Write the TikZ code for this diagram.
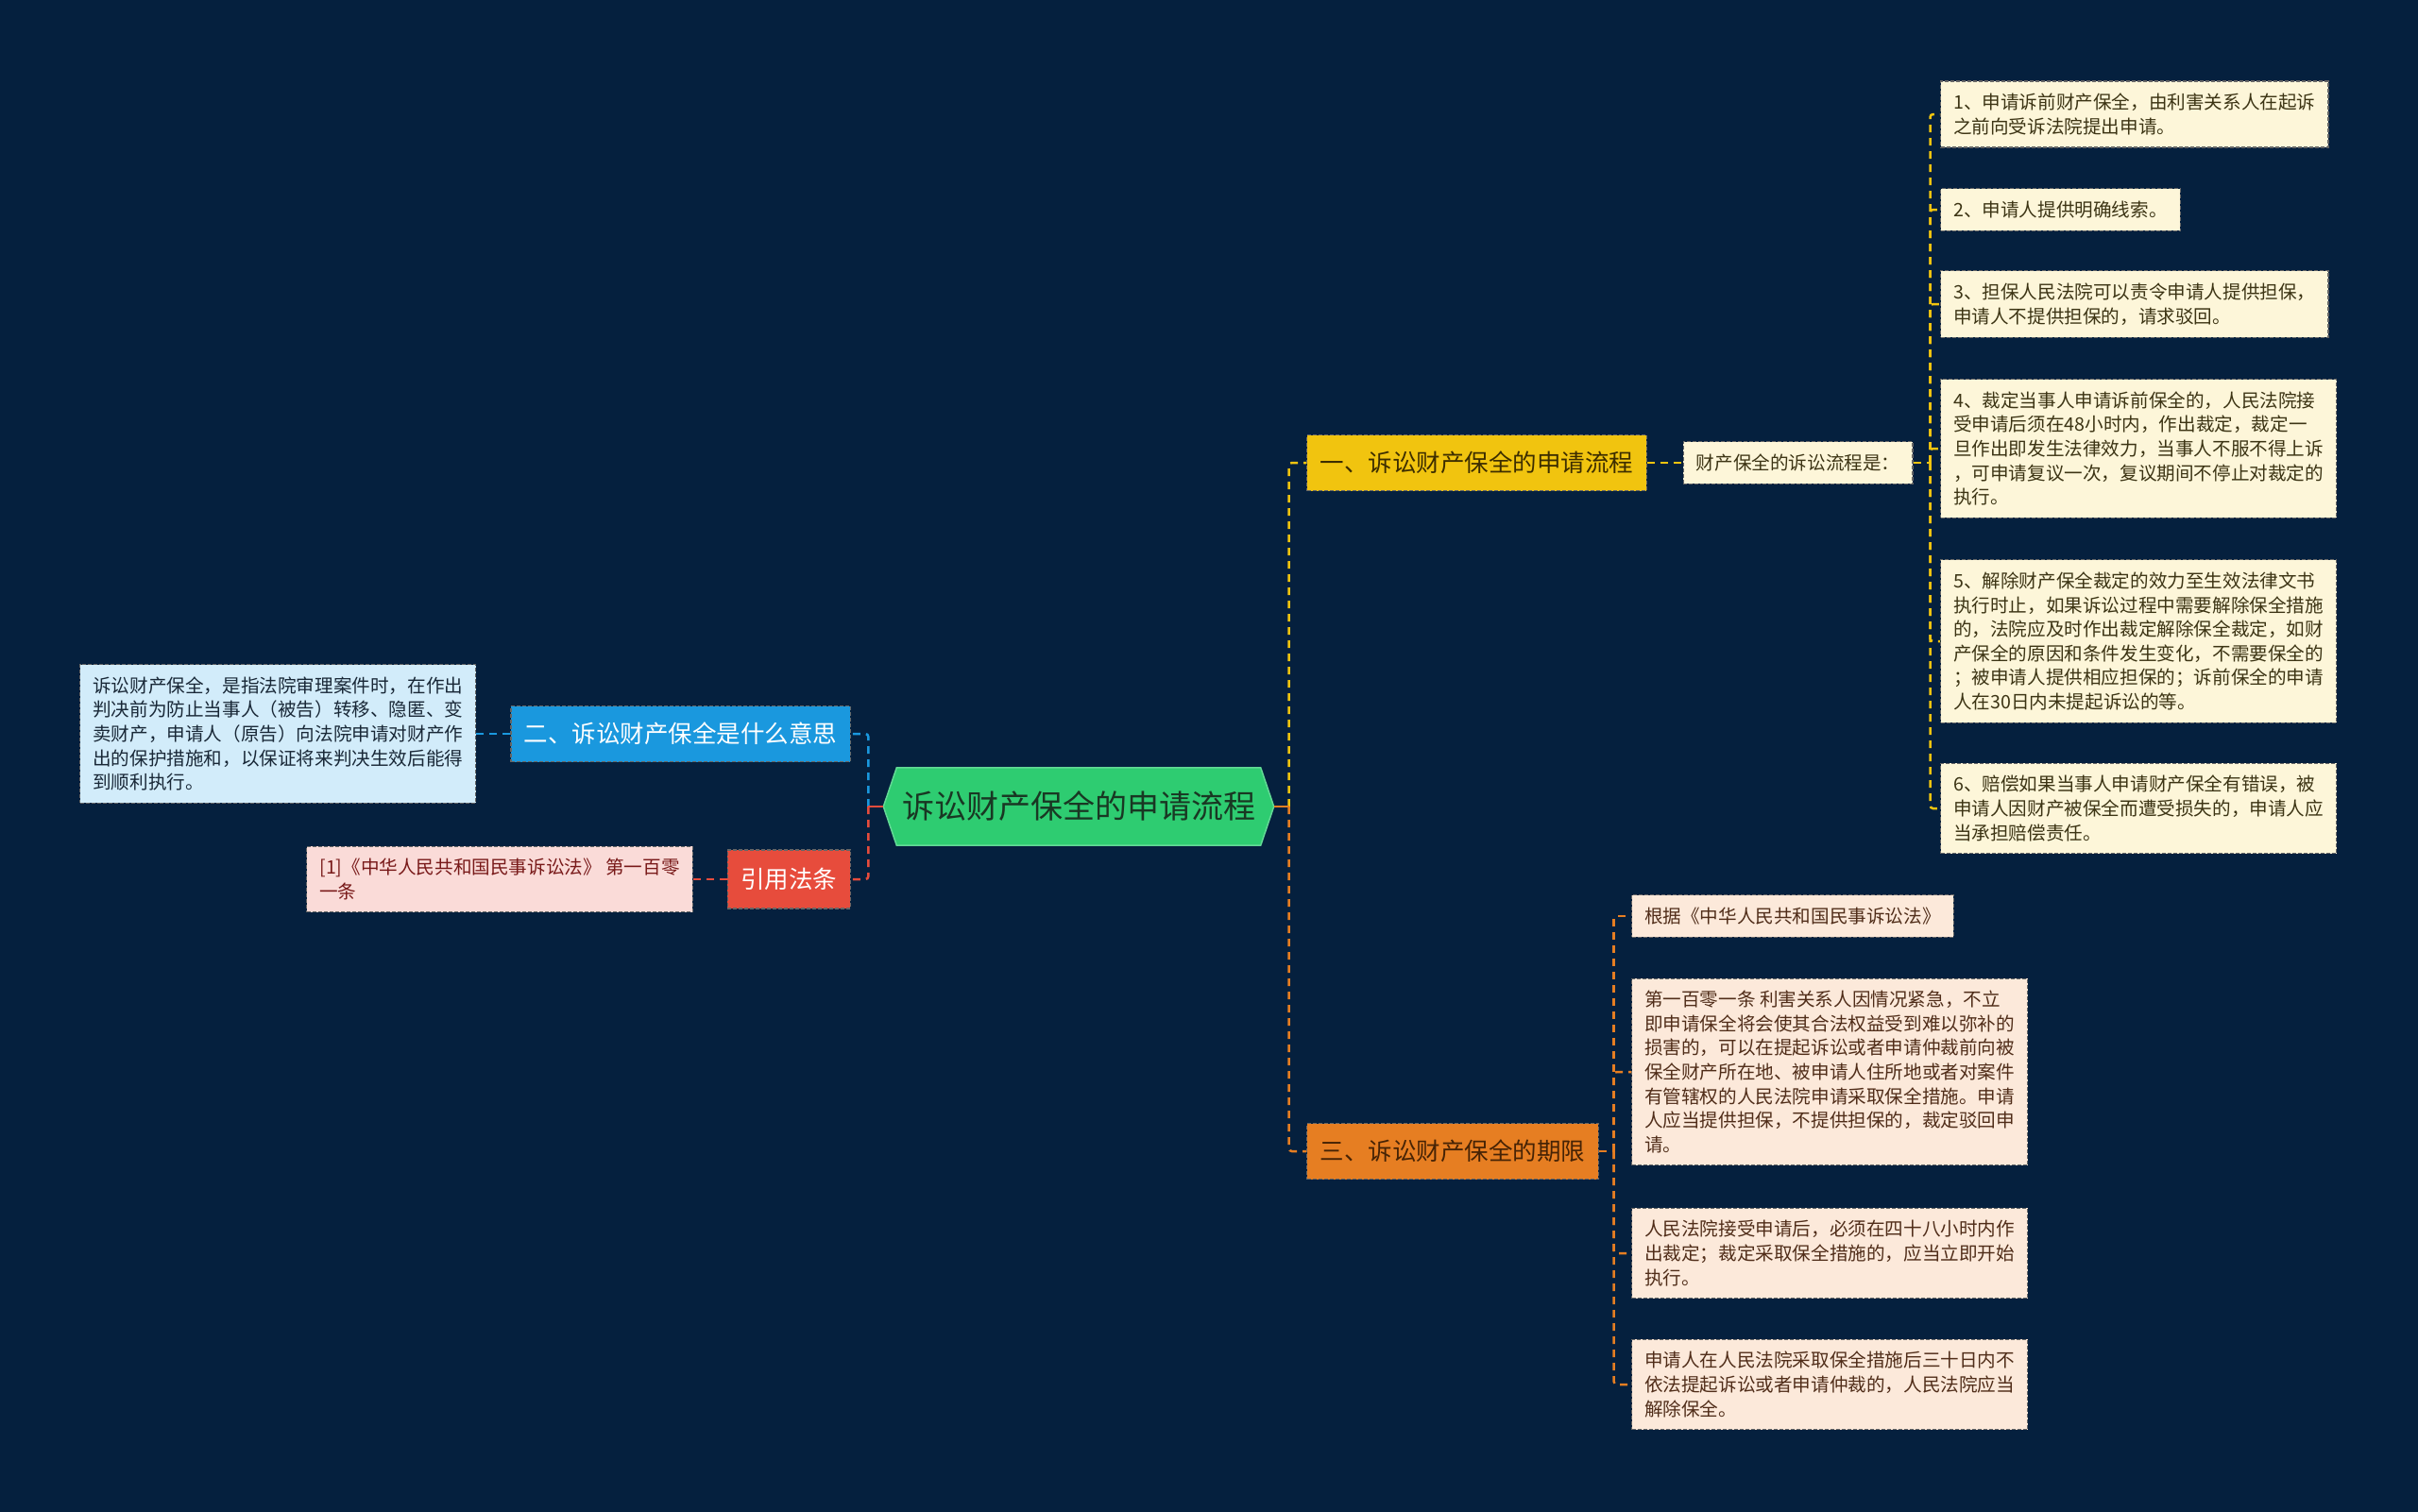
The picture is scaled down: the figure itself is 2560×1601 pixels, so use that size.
\documentclass[tikz,border=0pt]{standalone}
\usepackage{fontspec}
\setmainfont{Noto Sans CJK SC}
\usetikzlibrary{positioning,calc,backgrounds}
\definecolor{bgc}{RGB}{5,32,62}
\definecolor{rootc}{RGB}{46,204,113}
\definecolor{roott}{RGB}{25,55,35}
\definecolor{yelc}{RGB}{241,196,15}
\definecolor{orac}{RGB}{230,126,34}
\definecolor{bluc}{RGB}{26,152,222}
\definecolor{redc}{RGB}{231,76,60}
\definecolor{creamc}{RGB}{253,246,217}
\definecolor{peachc}{RGB}{252,233,218}
\definecolor{skyc}{RGB}{210,236,250}
\definecolor{pinkc}{RGB}{250,219,216}
\tikzset{
  box/.style={draw=black!60, line width=1.2pt, dash pattern=on 4pt off 2pt,
              align=left, inner xsep=13.5pt, inner ysep=13pt,
              font=\fontsize{19.6}{25.6}\selectfont},
  creambox/.style={box, fill=creamc, text={rgb,255:red,60;green,52;blue,20}},
  peachbox/.style={box, fill=peachc, text={rgb,255:red,80;green,45;blue,25}},
  skybox/.style={box, fill=skyc, text={rgb,255:red,25;green,40;blue,55}},
  pinkbox/.style={box, fill=pinkc, text={rgb,255:red,120;green,25;blue,25}},
  branch/.style={box, inner xsep=14pt, minimum height=59pt,
                 font=\fontsize{25.5}{30}\selectfont},
  ybranch/.style={branch, fill=yelc, text={rgb,255:red,60;green,45;blue,0}},
  obranch/.style={branch, fill=orac, text={rgb,255:red,70;green,35;blue,5}},
  bbranch/.style={branch, fill=bluc, text=white},
  rbranch/.style={branch, fill=redc, text=white, minimum height=62pt},
  rootbox/.style={text=roott, inner sep=0pt, minimum width=385pt,
                  minimum height=82pt, font=\fontsize{34}{38}\selectfont},
  hexfill/.style={fill=rootc, draw=rootc!75!white, line width=1.5pt},
  flow/.style={line width=2.5pt, dash pattern=on 8pt off 6pt, rounded corners=3pt},
  yflow/.style={flow, yelc},
  oflow/.style={flow, orac},
  bflow/.style={flow, bluc},
  rflow/.style={flow, redc},
  stub/.style={line width=2.5pt},
}
\begin{document}
\begin{tikzpicture}[x=1pt, y=-1pt]
\useasboundingbox (0,0) rectangle (2560,1601);

% ---------------------------------------------------------------- root
\node[rootbox] (root) at (1142,854) {诉讼财产保全的申请流程};
\coordinate (rtip) at ($(root.east)+(14,0)$);
\coordinate (ltip) at ($(root.west)+(-14,0)$);
\begin{scope}[on background layer]
  \fill[bgc] (0,0) rectangle (2560,1601);
  \filldraw[hexfill] (ltip) -- (root.north west) -- (root.north east) -- (rtip)
    -- (root.south east) -- (root.south west) -- cycle;
\end{scope}

% ---------------------------------------------------------------- right branches
\node[ybranch, anchor=west] (proc) at (1383,490) {一、诉讼财产保全的申请流程};
\node[obranch, anchor=west] (term) at (1383,1219) {三、诉讼财产保全的期限};
\coordinate (rtrunk) at ($(rtip)+(16,0)$);
\draw[yflow] (rtrunk) |- (proc.west);
\draw[oflow] (rtrunk) |- (term.west);
\draw[stub, orac] (rtip) -- (rtrunk);

% ---------------------------------------------------------------- procedure steps
\node[creambox, right=38pt of proc] (steps) {财产保全的诉讼流程是：};
\draw[yflow] (proc) -- (steps);

\node[creambox, anchor=west] (s1) at (2054,121)
  {1、申请诉前财产保全，由利害关系人在起诉\\之前向受诉法院提出申请。};
\node[creambox, anchor=west] (s2) at (2054,222) {2、申请人提供明确线索。};
\node[creambox, anchor=west] (s3) at (2054,322)
  {3、担保人民法院可以责令申请人提供担保，\\申请人不提供担保的，请求驳回。};
\node[creambox, anchor=west] (s4) at (2054,475)
  {4、裁定当事人申请诉前保全的，人民法院接\\受申请后须在48小时内，作出裁定，裁定一\\
   旦作出即发生法律效力，当事人不服不得上诉\\，可申请复议一次，复议期间不停止对裁定的\\执行。};
\node[creambox, anchor=west] (s5) at (2054,679)
  {5、解除财产保全裁定的效力至生效法律文书\\执行时止，如果诉讼过程中需要解除保全措施\\
   的，法院应及时作出裁定解除保全裁定，如财\\产保全的原因和条件发生变化，不需要保全的\\
   ；被申请人提供相应担保的；诉前保全的申请\\人在30日内未提起诉讼的等。};
\node[creambox, anchor=west] (s6) at (2054,856)
  {6、赔偿如果当事人申请财产保全有错误，被\\申请人因财产被保全而遭受损失的，申请人应\\当承担赔偿责任。};
\coordinate (strunk) at ($(steps.east)+(18,0)$);
\draw[yflow] (steps.east) -- (strunk);
\foreach \n in {s1,s2,s3,s4,s5,s6}
  \draw[yflow] (strunk) |- (\n.west);

% ---------------------------------------------------------------- time limits
\node[peachbox, anchor=west] (t1) at (1727,970) {根据《中华人民共和国民事诉讼法》};
\node[peachbox, anchor=west] (t2) at (1727,1135)
  {第一百零一条 利害关系人因情况紧急，不立\\即申请保全将会使其合法权益受到难以弥补的\\
   损害的，可以在提起诉讼或者申请仲裁前向被\\保全财产所在地、被申请人住所地或者对案件\\
   有管辖权的人民法院申请采取保全措施。申请\\人应当提供担保，不提供担保的，裁定驳回申\\请。};
\node[peachbox, anchor=west] (t3) at (1727,1327)
  {人民法院接受申请后，必须在四十八小时内作\\出裁定；裁定采取保全措施的，应当立即开始\\执行。};
\node[peachbox, anchor=west] (t4) at (1727,1466)
  {申请人在人民法院采取保全措施后三十日内不\\依法提起诉讼或者申请仲裁的，人民法院应当\\解除保全。};
\coordinate (ttrunk) at ($(term.east)+(16,0)$);
\draw[oflow] (term.east) -- (ttrunk);
\foreach \n in {t1,t2,t3,t4}
  \draw[oflow] (ttrunk) |- (\n.west);

% ---------------------------------------------------------------- left branches
\node[bbranch, anchor=east] (meaning) at (901,777) {二、诉讼财产保全是什么意思};
\node[rbranch, anchor=east] (cite) at (901,931) {引用法条};
\coordinate (ltrunk) at ($(ltip)+(-16,0)$);
\draw[bflow] (ltrunk) |- (meaning.east);
\draw[rflow] (ltrunk) |- (cite.east);
\draw[stub, redc] (ltip) -- (ltrunk);

\node[skybox, left=36pt of meaning] (defn)
  {诉讼财产保全，是指法院审理案件时，在作出\\判决前为防止当事人（被告）转移、隐匿、变\\
   卖财产，申请人（原告）向法院申请对财产作\\出的保护措施和，以保证将来判决生效后能得\\到顺利执行。};
\draw[bflow] (meaning) -- (defn);

\node[pinkbox, left=36pt of cite] (law)
  {[1]《中华人民共和国民事诉讼法》 第一百零\\一条};
\draw[rflow] (cite) -- (law);

\end{tikzpicture}
\end{document}
